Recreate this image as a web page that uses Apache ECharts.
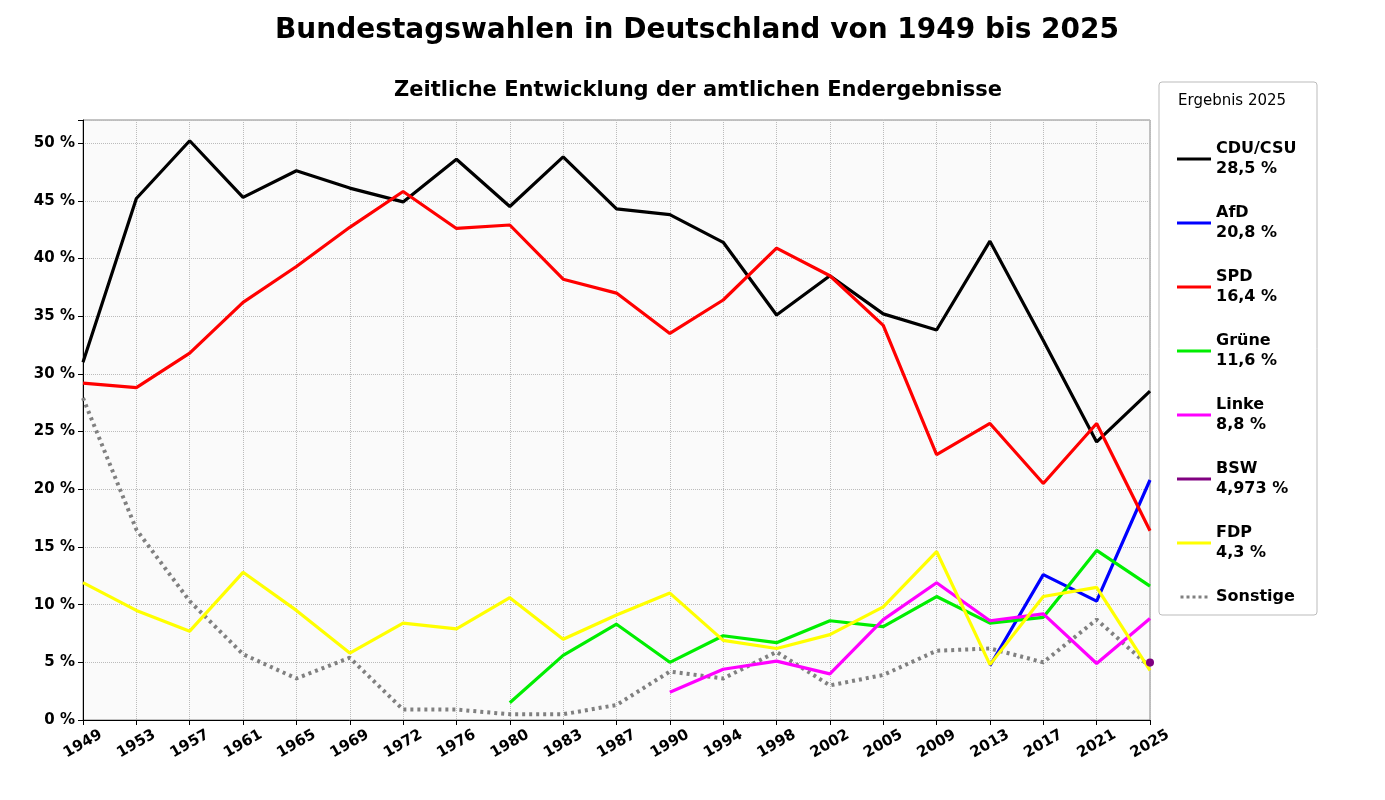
<!DOCTYPE html>
<html><head><meta charset="utf-8">
<script src="https://cdn.jsdelivr.net/npm/echarts@6/dist/echarts.min.js"></script>
<style>html,body{margin:0;padding:0;background:#fff}#c{width:1385px;height:800px}</style>
</head><body><div id="c"></div>
<script>
const years=['1949','1953','1957','1961','1965','1969','1972','1976','1980','1983','1987','1990','1994','1998','2002','2005','2009','2013','2017','2021','2025'];
const cdu=[31.0,45.2,50.2,45.3,47.6,46.1,44.9,48.6,44.5,48.8,44.3,43.8,41.4,35.1,38.5,35.2,33.8,41.5,32.9,24.1,28.5];
const afd=[null,null,null,null,null,null,null,null,null,null,null,null,null,null,null,null,null,4.7,12.6,10.3,20.8];
const spd=[29.2,28.8,31.8,36.2,39.3,42.7,45.8,42.6,42.9,38.2,37.0,33.5,36.4,40.9,38.5,34.2,23.0,25.7,20.5,25.7,16.4];
const gruene=[null,null,null,null,null,null,null,null,1.5,5.6,8.3,5.0,7.3,6.7,8.6,8.1,10.7,8.4,8.9,14.7,11.6];
const linke=[null,null,null,null,null,null,null,null,null,null,null,2.4,4.4,5.1,4.0,8.7,11.9,8.6,9.2,4.9,8.8];
const bsw=[null,null,null,null,null,null,null,null,null,null,null,null,null,null,null,null,null,null,null,null,4.973];
const fdp=[11.9,9.5,7.7,12.8,9.5,5.8,8.4,7.9,10.6,7.0,9.1,11.0,6.9,6.2,7.4,9.8,14.6,4.8,10.7,11.5,4.3];
const sonst=[27.9,16.5,10.3,5.7,3.6,5.4,0.9,0.9,0.5,0.5,1.3,4.2,3.6,5.9,3.0,3.9,6.0,6.2,5.0,8.7,4.6];
const legendText={'CDU/CSU':'28,5 %','AfD':'20,8 %','SPD':'16,4 %','Grüne':'11,6 %','Linke':'8,8 %','BSW':'4,973 %','FDP':'4,3 %','Sonstige':''};
const F='DejaVu Sans';
const lineIcon='path://M0,0L34,0L34,3L0,3Z';
const dotIcon='path://M0,0L4,0L4,4L0,4ZM8,0L12,0L12,4L8,4ZM16,0L20,0L20,4L16,4ZM24,0L28,0L28,4L24,4ZM32,0L36,0L36,4L32,4Z';
function s(name,data,color,extra){return Object.assign({name,type:'line',data,symbol:'none',lineStyle:{color,width:3.2},itemStyle:{color},connectNulls:false,animation:false},extra||{});}
const chart=echarts.init(document.getElementById('c'));
chart.setOption({
 animation:false,
 title:[{text:'Bundestagswahlen in Deutschland von 1949 bis 2025',left:692,top:12,textAlign:'center',textStyle:{fontFamily:F,fontSize:28,fontWeight:'bold',color:'#000'}},
        {text:'Zeitliche Entwicklung der amtlichen Endergebnisse',left:693,top:75,textAlign:'center',textStyle:{fontFamily:F,fontSize:21,fontWeight:'bold',color:'#000'}}],
 graphic:[{type:'rect',shape:{x:1159,y:82,width:158,height:533,r:3},style:{fill:'#fff',stroke:'#bbb',lineWidth:1},z:-1},
          {type:'text',left:1178,top:94,style:{text:'Ergebnis 2025',font:'15px "DejaVu Sans"',fill:'#000'}}],
 legend:{orient:'vertical',left:1172,top:134,itemGap:24,itemWidth:34,itemHeight:3,itemTextGap:9,
   textStyle:{fontFamily:F,fontSize:16,fontWeight:'bold',color:'#000',lineHeight:20},
   formatter:n=>legendText[n]?n+'\n'+legendText[n]:n,
   data:['CDU/CSU','AfD','SPD','Grüne','Linke',{name:'BSW',icon:lineIcon},'FDP',{name:'Sonstige',icon:dotIcon}],icon:lineIcon},
 grid:{left:83,right:235,top:120,bottom:80,backgroundColor:'#fafafa',show:true,borderColor:'#888',borderWidth:1},
 xAxis:{type:'category',data:years,boundaryGap:false,
   axisLine:{lineStyle:{color:'#000'}},axisTick:{alignWithLabel:true,lineStyle:{color:'#000'}},
   axisLabel:{rotate:30,align:'center',verticalAlign:'middle',fontFamily:F,fontSize:15,fontWeight:'bold',color:'#000',margin:24,interval:0},
   splitLine:{show:true,lineStyle:{color:'#bbb',type:'dotted'}}},
 yAxis:{type:'value',min:0,max:52,interval:5,
   axisLine:{show:true,lineStyle:{color:'#000'}},axisTick:{show:true},
   axisLabel:{fontFamily:F,fontSize:15,fontWeight:'bold',color:'#000',formatter:v=>v>50?'':v+' %'},
   splitLine:{show:true,lineStyle:{color:'#bbb',type:'dotted'}}},
 series:[
  s('CDU/CSU',cdu,'#000000'),
  s('AfD',afd,'#0000ff'),
  s('SPD',spd,'#ff0000'),
  s('Grüne',gruene,'#00ee00'),
  s('Linke',linke,'#ff00ff'),
  s('BSW',bsw,'#800080',{symbol:'circle',symbolSize:8,showSymbol:true}),
  s('FDP',fdp,'#ffff00'),
  s('Sonstige',sonst,'#808080',{lineStyle:{color:'#808080',width:4,type:[3,4]},z:1})
 ]
});
</script></body></html>
